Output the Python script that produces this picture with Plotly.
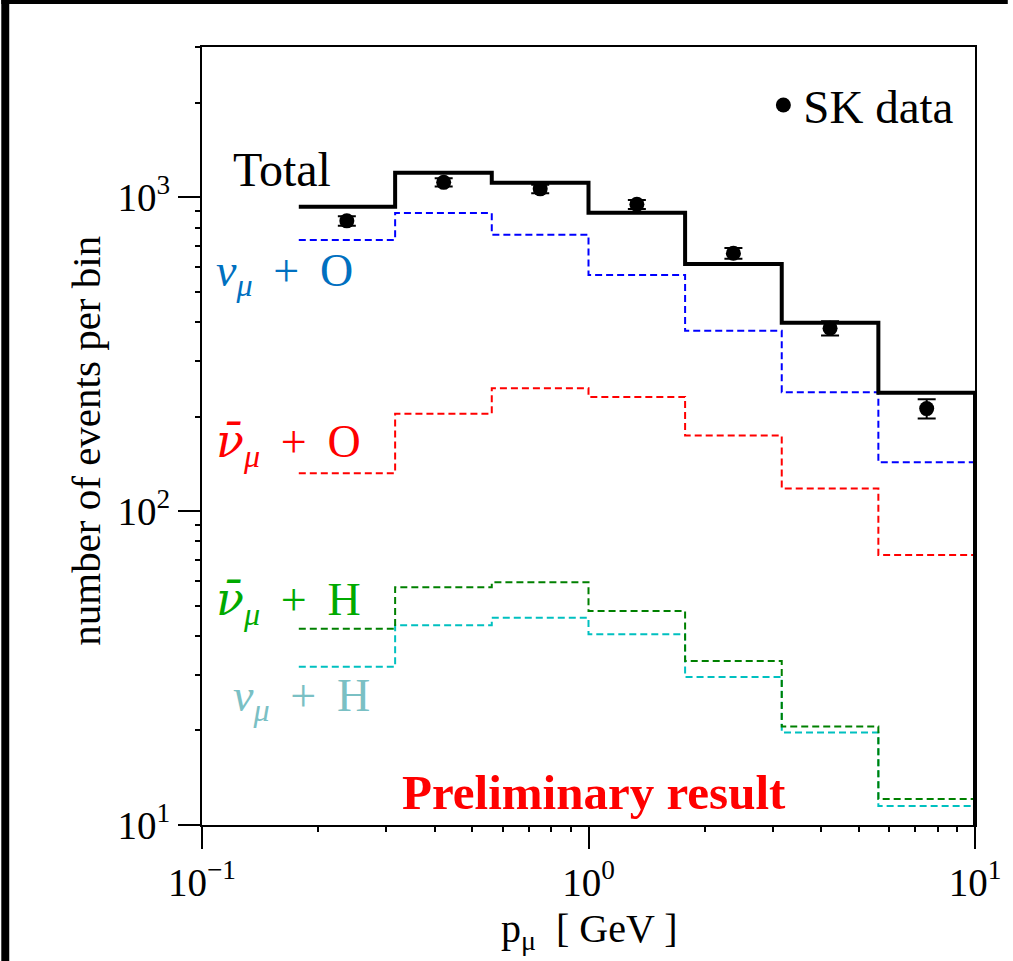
import plotly.graph_objects as go

# ---- data ----
bin_edges = [0.178, 0.316, 0.562, 1.0, 1.778, 3.162, 5.623, 10.0]
total = [931, 1195, 1110, 891, 612, 398, 238]
numu_O = [730, 889, 759, 565, 375, 239, 143]
numubar_O = [132, 204, 246, 231, 174, 118, 72.4]
numubar_H = [42.2, 57.2, 59.3, 48.0, 33.3, 20.6, 12.1]
numu_H = [31.9, 43.3, 45.7, 40.5, 29.6, 19.7, 11.5]

data_x = [0.237, 0.422, 0.750, 1.334, 2.371, 4.217, 7.499]
data_y = [840, 1114, 1062, 948, 662, 382, 212]
data_err = [29, 33, 33, 31, 26, 20, 15]

x_tickvals = [0.1, 1, 10]
x_ticktext = ["10<sup>−1</sup>", "10<sup>0</sup>", "10<sup>1</sup>"]
y_tickvals = [10, 100, 1000]
y_ticktext = ["10<sup>1</sup>", "10<sup>2</sup>", "10<sup>3</sup>"]
Y_MIN = 10

FONT = "Liberation Serif, Times New Roman, DejaVu Serif, serif"

fig = go.Figure()


def hist_trace(vals, color, width, dash):
    xs = list(bin_edges) + [bin_edges[-1]]
    ys = list(vals) + [vals[-1], Y_MIN]
    return go.Scatter(x=xs, y=ys, mode="lines", line_shape="hv",
                      line=dict(color=color, width=width, dash=dash),
                      showlegend=False, hoverinfo="skip")


fig.add_trace(hist_trace(numu_H, "#00C0C0", 2, "7px,4px"))
fig.add_trace(hist_trace(numubar_H, "#008000", 2, "7px,4px"))
fig.add_trace(hist_trace(numubar_O, "#FF0000", 2, "7px,4px"))
fig.add_trace(hist_trace(numu_O, "#0000FF", 2, "7px,4px"))
fig.add_trace(hist_trace(total, "#000000", 4, "solid"))

fig.add_trace(go.Scatter(
    x=data_x, y=data_y, mode="markers", name="SK data",
    marker=dict(color="black", size=15, symbol="circle"),
    error_y=dict(type="data", array=data_err, color="black", thickness=2, width=9),
    showlegend=True))

L, R, T, B = 202, 33, 47, 136
W, H = 1013, 961
PW, PH = W - L - R, H - T - B


def px(x):
    return (x - L) / PW


def py(y):
    return (H - B - y) / PH


minor_x = [m * 10 ** e for e in (-1, 0) for m in range(2, 10)]
minor_y = [m * 10 ** e for e in (1, 2, 3) for m in range(2, 10)]

axis_common = dict(
    type="log", showgrid=False, zeroline=False,
    showline=True, linewidth=2, linecolor="black", mirror=True,
    ticks="outside", ticklen=22, tickwidth=2, tickcolor="black",
    tickfont=dict(family=FONT, size=39, color="black"),
)

fig.update_xaxes(range=[-1, 1], tickmode="array", tickvals=x_tickvals, ticktext=x_ticktext,
                 minor=dict(tickmode="array", tickvals=minor_x, ticks="outside", ticklen=5,
                            tickwidth=1.5, tickcolor="black", showgrid=False),
                 **axis_common)
fig.update_yaxes(range=[1, 3.478], tickmode="array", tickvals=y_tickvals, ticktext=y_ticktext,
                 minor=dict(tickmode="array", tickvals=minor_y, ticks="outside", ticklen=5,
                            tickwidth=1.5, tickcolor="black", showgrid=False),
                 **axis_common)

SP = "\u00a0"
TH = "\u2009"
plus = SP + TH + "+" + SP + TH
NUBAR = "<span style=\"font-family:'DejaVu Serif'\"><i>ν̄</i></span>"
NU = "<i>ν</i>"
MU = "<sub><i>μ</i></sub>"
annotations = [
    dict(text="Total", x=px(231), y=py(170), xanchor="left", yanchor="middle",
         font=dict(family=FONT, size=48, color="black")),
    dict(text=NU + MU + plus + "O", x=px(214), y=py(274), xanchor="left", yanchor="middle",
         font=dict(family=FONT, size=46, color="#0070C0")),
    dict(text=NUBAR + MU + plus + "O", x=px(214), y=py(444), xanchor="left", yanchor="middle",
         font=dict(family=FONT, size=46, color="#FF0000")),
    dict(text=NUBAR + MU + plus + "H", x=px(214), y=py(602), xanchor="left", yanchor="middle",
         font=dict(family=FONT, size=46, color="#00AA00")),
    dict(text=NU + MU + plus + "H", x=px(231), y=py(699), xanchor="left", yanchor="middle",
         font=dict(family=FONT, size=46, color="#7AC0C4")),
    dict(text="<b>Preliminary result</b>", x=px(597), y=py(792), xanchor="center", yanchor="middle",
         font=dict(family=FONT, size=49, color="#FF0000")),
    dict(text="p<sub>μ</sub>" + SP + SP + "[ GeV ]", x=px(591), y=py(931), xanchor="center", yanchor="middle",
         font=dict(family=FONT, size=40, color="black")),
    dict(text="number of events per bin", x=px(85), y=py(441), xanchor="center", yanchor="middle",
         textangle=-90, font=dict(family=FONT, size=41, color="black")),
]
for a in annotations:
    a.update(xref="paper", yref="paper", showarrow=False)

shapes = [
    dict(type="rect", xref="paper", yref="paper", x0=px(0), x1=px(8), y0=py(H), y1=py(0),
         fillcolor="black", line=dict(width=0), layer="above"),
    dict(type="rect", xref="paper", yref="paper", x0=px(0), x1=px(W), y0=py(4), y1=py(0),
         fillcolor="black", line=dict(width=0), layer="above"),
]

fig.update_layout(
    width=W, height=H, autosize=False,
    margin=dict(l=L, r=R, t=T, b=B),
    paper_bgcolor="white", plot_bgcolor="white",
    annotations=annotations, shapes=shapes,
    legend=dict(x=px(767), y=py(68), xanchor="left", yanchor="top",
                font=dict(family=FONT, size=47, color="black"),
                bgcolor="rgba(0,0,0,0)", borderwidth=0),
)

fig.write_html(
    "out.html",
    config={"displayModeBar": False, "responsive": False},
    post_script=(
        "document.body.style.margin='0';"
        "document.body.style.overflow='hidden';"
        "document.documentElement.style.overflow='hidden';"
        "document.documentElement.style.background='white';"
    ),
)
